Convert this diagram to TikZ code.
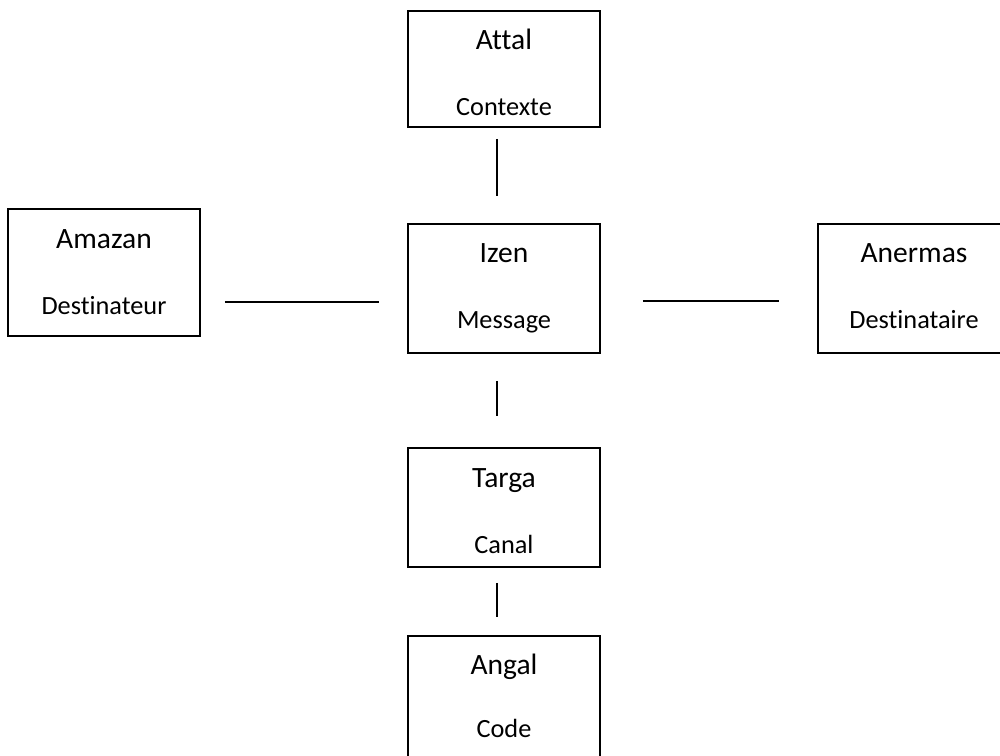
\documentclass[tikz,border=0pt]{standalone}
\usepackage{fontspec}
\setmainfont[Ligatures=NoCommon]{Carlito}
\begin{document}
\begin{tikzpicture}[x=1pt,y=-1pt,
  box/.style={draw, line width=1.7pt, minimum width=192pt, inner sep=0pt},
  ttl/.style={anchor=base, inner sep=0pt, font=\fontsize{29.5}{31}\selectfont},
  sub/.style={anchor=base, inner sep=0pt, font=\fontsize{26.3}{28}\selectfont},
  conn/.style={draw, line width=1.7pt}]
\useasboundingbox (0,0) rectangle (1000,755);
\begin{scope}
\clip (0,0) rectangle (1000,755);
% boxes
\node[box, minimum height=116pt] (attal) at (504,69) {};
\node[box, minimum height=127pt] (amazan) at (104,272.5) {};
\node[box, minimum height=129pt] (izen) at (504,288.5) {};
\node[box, minimum height=129pt] (anermas) at (914,288.5) {};
\node[box, minimum height=119pt] (targa) at (504,507.5) {};
\node[box, minimum height=134pt] (angal) at (504,703) {};
\end{scope}
% texts
\node[ttl] (attalT) at (504,49) {Attal};
\node[sub] (attalS) at (504,115) {Contexte};
\node[ttl] (amazanT) at (104,248) {Amazan};
\node[sub] (amazanS) at (104,314) {Destinateur};
\node[ttl] (izenT) at (504,262) {Izen};
\node[sub] (izenS) at (504,328) {Message};
\node[ttl] (anermasT) at (914,262) {Anermas};
\node[sub] (anermasS) at (914,328) {Destinataire};
\node[ttl] (targaT) at (504,487) {Targa};
\node[sub] (targaS) at (504,553) {Canal};
\node[ttl] (angalT) at (504,674) {Angal};
\node[sub] (angalS) at (504,737) {Code};
% connectors
\draw[conn, shorten <=11pt, shorten >=27pt] ([xshift=-7pt]attal.south) -- ([xshift=-7pt]izen.north);
\draw[conn, shorten <=24pt, shorten >=28pt] ([yshift=-29.5pt]amazan.east) -- ([yshift=-13.5pt]izen.west);
\draw[conn, shorten <=42pt, shorten >=38pt] ([yshift=-12.5pt]izen.east) -- ([yshift=-12.5pt]anermas.west);
\draw[conn, shorten <=27pt, shorten >=31pt] ([xshift=-7pt]izen.south) -- ([xshift=-7pt]targa.north);
\draw[conn, shorten <=15pt, shorten >=18pt] ([xshift=-7pt]targa.south) -- ([xshift=-7pt]angal.north);
\end{tikzpicture}
\end{document}
